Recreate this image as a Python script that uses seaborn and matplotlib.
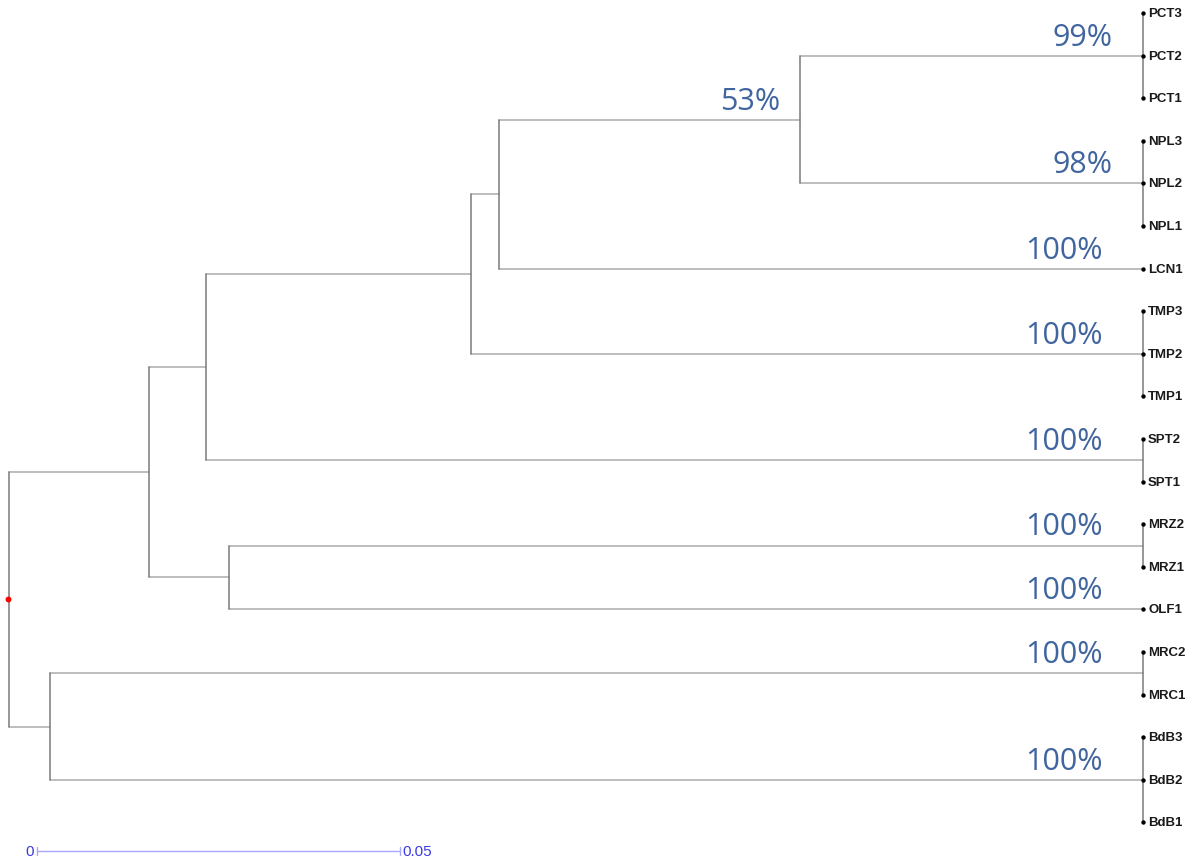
import numpy as np
import pandas as pd
import matplotlib
matplotlib.use("Agg")
import matplotlib.pyplot as plt
import seaborn as sns

# === Tree data ===
leaf_labels = ["PCT3", "PCT2", "PCT1", "NPL3", "NPL2", "NPL1", "LCN1", "TMP3", "TMP2", "TMP1",
               "SPT2", "SPT1", "MRZ2", "MRZ1", "OLF1", "MRC2", "MRC1", "BdB3", "BdB2", "BdB1"]
leaf_parent = ["PCT", "PCT", "PCT", "NPL", "NPL", "NPL", "B", "TMP", "TMP", "TMP",
               "SPT", "SPT", "MRZ", "MRZ", "E", "MRC", "MRC", "BdB", "BdB", "BdB"]

clade_names = ["root", "G", "F", "E", "D", "C", "B", "A", "PCT", "NPL", "TMP", "SPT", "MRZ", "MRC", "BdB"]
clade_parent = [None, "root", "root", "F", "F", "D", "C", "B", "A", "A", "C", "D", "E", "G", "G"]
clade_depth = [0.0, 0.0057, 0.0193, 0.0303, 0.0271, 0.0636, 0.0675, 0.1090,
               0.1562, 0.1562, 0.1562, 0.1562, 0.1562, 0.1562, 0.1562]
leaf_depth = 0.1562

support_node = ["A", "PCT", "NPL", "LCN1", "TMP", "SPT", "MRZ", "OLF1", "MRC", "BdB"]
support_value = ["53%", "99%", "98%", "100%", "100%", "100%", "100%", "100%", "100%", "100%"]

scale_start = 0.0039
scale_length = 0.05
scale_labels = ["0", "0.05"]

# === Layout ===
depth = dict(zip(clade_names, clade_depth))
parent = dict(zip(clade_names, clade_parent))
ypos = {}
children = {c: [] for c in clade_names}
for i, (lab, par) in enumerate(zip(leaf_labels, leaf_parent)):
    depth[lab] = leaf_depth
    parent[lab] = par
    ypos[lab] = float(i)
    children[par].append(lab)
for c, p in zip(clade_names, clade_parent):
    if p is not None:
        children[p].append(c)


def node_y(n):
    if n not in ypos:
        ys = [node_y(ch) for ch in children[n]]
        ypos[n] = (min(ys) + max(ys)) / 2
    return ypos[n]


node_y("root")

segs = []
for n, p in parent.items():
    if p is None:
        continue
    segs.append(dict(seg=f"h_{n}", x=depth[p], y=ypos[n], kind="h"))
    segs.append(dict(seg=f"h_{n}", x=depth[n], y=ypos[n], kind="h"))
for n in clade_names:
    ys = [ypos[ch] for ch in children[n]]
    segs.append(dict(seg=f"v_{n}", x=depth[n], y=min(ys), kind="v"))
    segs.append(dict(seg=f"v_{n}", x=depth[n], y=max(ys), kind="v"))
seg_df = pd.DataFrame(segs)

# === Plot ===
sns.set_theme(style="white")
plt.rcParams['font.family'] = ['Liberation Sans', 'DejaVu Sans']

fig = plt.figure(figsize=(11.98, 8.62), dpi=100)
ax = fig.add_axes([0, 0, 1, 1])

k = 0.05 / 363  # data units per pixel
px = 42.6       # pixels per leaf row
ax.set_xlim(-9 * k, 1189 * k)
ax.set_ylim((862 - 14) / px, -14 / px)
ax.axis("off")

sns.lineplot(data=seg_df[seg_df.kind == "h"], x="x", y="y", units="seg", estimator=None,
             sort=False, color="#ababab", linewidth=1.1, ax=ax)
sns.lineplot(data=seg_df[seg_df.kind == "v"], x="x", y="y", units="seg", estimator=None,
             sort=False, color="#7a7a7a", linewidth=1.1, ax=ax)

leaf_df = pd.DataFrame({"x": [leaf_depth] * len(leaf_labels), "y": [ypos[l] for l in leaf_labels]})
sns.scatterplot(data=leaf_df, x="x", y="y", color="black", s=10, linewidth=0, ax=ax, zorder=5)
sns.scatterplot(x=[depth["root"] - 1 * k], y=[ypos["root"]], color="red", s=18, linewidth=0,
                ax=ax, zorder=5)

for lab in leaf_labels:
    ax.text(leaf_depth + 5 * k, ypos[lab], lab, fontsize=9.5, fontweight="bold",
            color="#1a1a1a", ha="left", va="center")

for n, v in zip(support_node, support_value):
    if depth[n] != leaf_depth:
        off = 20 * k
    elif len(v) > 3:
        off = 40 * k
    else:
        off = 31 * k
    ax.text(depth[n] - off, ypos[n] - 4 / px, v, fontsize=22, color="#41659f",
            family=["Open Sans", "DejaVu Sans"], ha="right", va="bottom")

# scale bar
sy = (852 - 14) / px
ax.plot([scale_start, scale_start + scale_length], [sy, sy], color="#a8a8ff", linewidth=1)
for xx in [scale_start, scale_start + scale_length]:
    ax.plot([xx, xx], [sy - 4 / px, sy + 4 / px], color="#a8a8ff", linewidth=1)
ax.text(scale_start - 3 * k, sy, scale_labels[0], color="#3a3ae0", fontsize=11,
        ha="right", va="center")
ax.text(scale_start + scale_length + 2 * k, sy, scale_labels[1], color="#3a3ae0", fontsize=11,
        ha="left", va="center")

fig.savefig("out.png", dpi=100)
